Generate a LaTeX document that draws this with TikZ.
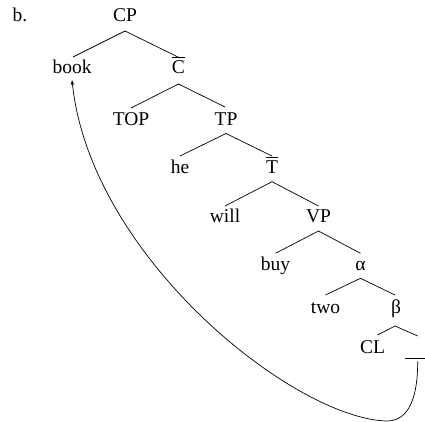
\documentclass[tikz,border=0pt]{standalone}
\usepackage{fontspec}
\setmainfont{Liberation Serif}
\usetikzlibrary{arrows.meta}
\newcommand\ovbar[1]{\vbox{\hrule height 1.2pt\kern 2.8pt\hbox{#1}}}
\begin{document}
\begin{tikzpicture}[x=1pt,y=-1pt,
  lab/.style={anchor=base,inner sep=0pt,font=\fontsize{19.5}{22}\selectfont},
  br/.style={line width=0.7pt},
  mv/.style={line width=0.7pt,-{Stealth[length=5pt,width=3.5pt]}}]
\useasboundingbox (0,0) rectangle (425,422);
\node[lab,anchor=base west] (lbl) at (12.5,22) {b.};
\node[lab] (CP) at (125,22) {CP};
\node[lab] (book) at (72,74) {book};
\node[lab] (Cb) at (178.5,74) {\ovbar{C}};
\node[lab] (TOP) at (131,126) {TOP};
\node[lab] (TP) at (226,126) {TP};
\node[lab] (he) at (180,174) {he};
\node[lab] (Tb) at (272,174) {\ovbar{T}};
\node[lab] (will) at (225,222) {will};
\node[lab] (VP) at (318.5,222) {VP};
\node[lab] (buy) at (275.5,270) {buy};
\node[lab] (al) at (360.5,270) {α};
\node[lab] (two) at (325.5,313) {two};
\node[lab] (be) at (396,313) {β};
\node[lab] (CL) at (372.5,353) {CL};
\node[inner sep=0pt] (tr) at (415,358.3) {\rule{20pt}{1.3pt}};
% branches
\draw[br] ([xshift=1pt,yshift=17pt]book.base) -- ([yshift=-9pt]CP.base) -- ([xshift=1.5pt,yshift=16pt]Cb.base);
\draw[br] ([yshift=18pt]TOP.base) -- ([yshift=-10pt]Cb.base) -- ([xshift=-1pt,yshift=19pt]TP.base);
\draw[br] ([yshift=18pt]he.base) -- ([yshift=-7.5pt]TP.base) -- ([yshift=18pt]Tb.base);
\draw[br] ([yshift=16pt]will.base) -- ([yshift=-7.7pt]Tb.base) -- ([yshift=16pt]VP.base);
\draw[br] ([yshift=16.7pt]buy.base) -- ([yshift=-9pt]VP.base) -- ([yshift=16.7pt]al.base);
\draw[br] ([yshift=18pt]two.base) -- ([yshift=-8.3pt]al.base) -- ([xshift=-1pt,yshift=18pt]be.base);
\draw[br] ([xshift=5pt,yshift=18pt]CL.base) -- ([xshift=-1pt,yshift=-13pt]be.base) -- ([xshift=2.7pt,yshift=22.3pt]tr.center);
% movement arrow
\draw[mv] ([xshift=2.7pt,yshift=-3pt]tr.center)
  .. controls (417.7,405) and (405,422) .. (385,421)
  .. controls (290,416) and (90,255) .. ([yshift=-6pt]book.base);
\end{tikzpicture}
\end{document}
